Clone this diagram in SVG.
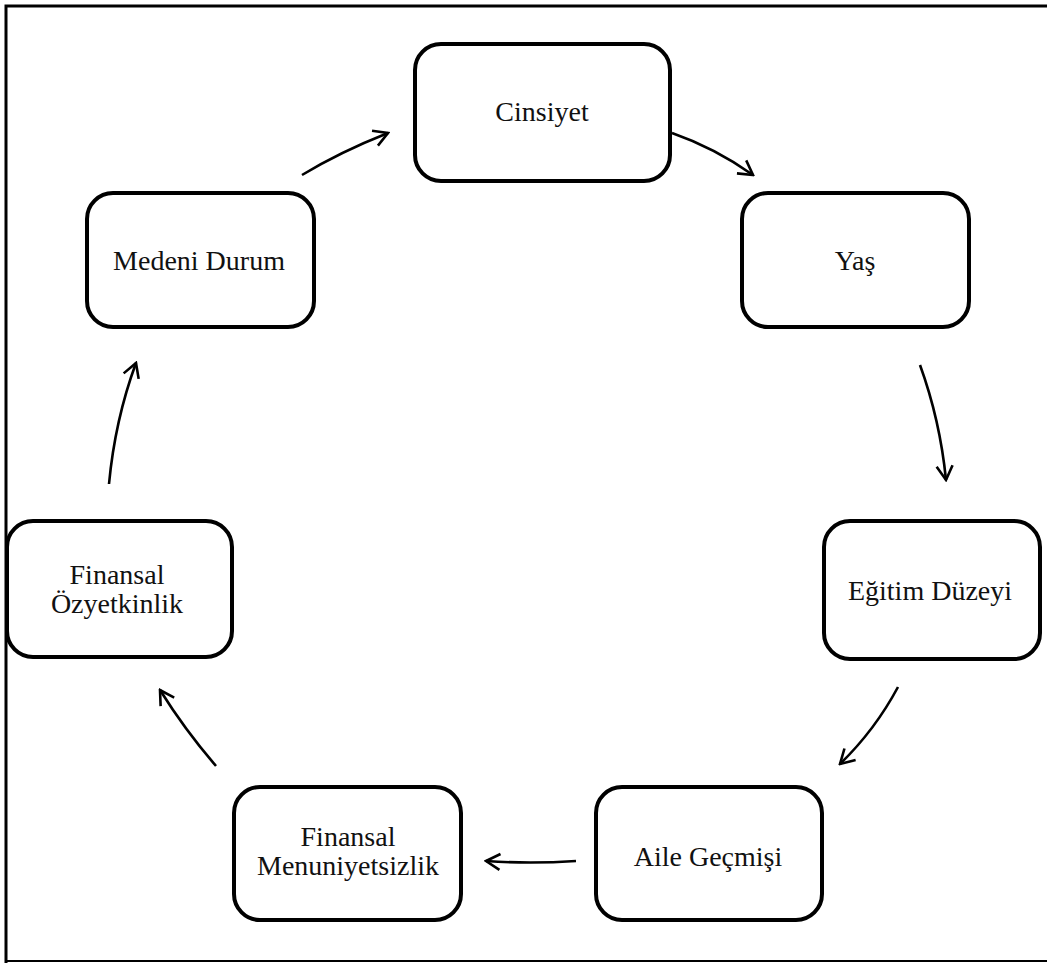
<svg xmlns="http://www.w3.org/2000/svg" width="1047" height="965" viewBox="0 0 1047 965">
<defs>
<style>
.box{fill:#fff;stroke:#000;stroke-width:4}
.t{font-family:"Liberation Serif","Times New Roman",serif;font-size:28px;fill:#111;text-anchor:middle}
.c{fill:none;stroke:#000;stroke-width:2.6;marker-end:url(#ah)}
</style>
<marker id="ah" viewBox="0 0 20 20" refX="18" refY="10" markerWidth="20" markerHeight="20" markerUnits="userSpaceOnUse" orient="auto">
<path d="M4,2 L18,10 L4,18" fill="none" stroke="#000" stroke-width="2.6"/>
</marker>
</defs>
<rect x="0" y="0" width="1047" height="965" fill="#fff"/>
<path d="M6,963 L6,6 L1047,6" fill="none" stroke="#000" stroke-width="3"/>
<path d="M6,961 L1047,961" fill="none" stroke="#000" stroke-width="2"/>
<g id="n-cinsiyet"><rect class="box" x="415" y="44" width="255" height="137" rx="26"/><text class="t" x="542" y="121">Cinsiyet</text></g>
<g id="n-yas"><rect class="box" x="742" y="193" width="227" height="134" rx="26"/><text class="t" x="855" y="270">Yaş</text></g>
<g id="n-egitim"><rect class="box" x="824" y="521" width="216" height="138" rx="26"/><text class="t" x="930" y="600">Eğitim Düzeyi</text></g>
<g id="n-aile"><rect class="box" x="596" y="787" width="226" height="133" rx="26"/><text class="t" x="708" y="866">Aile Geçmişi</text></g>
<g id="n-menun"><rect class="box" x="234" y="787" width="227" height="133" rx="26"/><text class="t" x="348" y="846">Finansal</text><text class="t" x="348" y="875">Menuniyetsizlik</text></g>
<g id="n-ozyet"><rect class="box" x="7" y="521" width="225" height="136" rx="26"/><text class="t" x="117" y="584">Finansal</text><text class="t" x="117" y="613">Özyetkinlik</text></g>
<g id="n-medeni"><rect class="box" x="87" y="193" width="227" height="134" rx="26"/><text class="t" x="199" y="270">Medeni Durum</text></g>
<g id="connectors">
<path class="c" d="M302,175 Q340,152 388,133"/>
<path class="c" d="M672,133 Q715,148 753,175"/>
<path class="c" d="M920,365 Q940,420 946,480"/>
<path class="c" d="M898,687 Q875,730 840,764"/>
<path class="c" d="M576,861 Q530,864 486,861"/>
<path class="c" d="M216,766 Q185,730 160,690"/>
<path class="c" d="M109,484 Q115,420 136,363"/>
</g>
</svg>
